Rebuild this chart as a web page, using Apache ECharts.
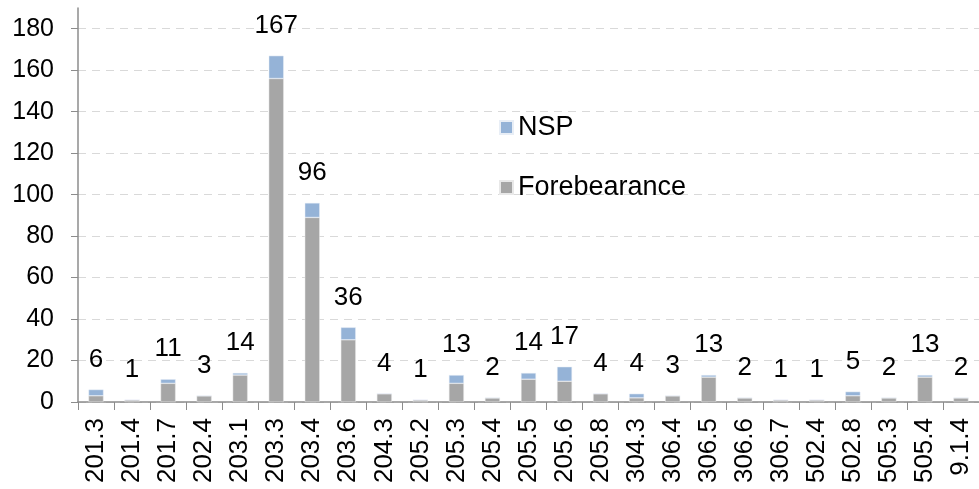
<!DOCTYPE html>
<html>
<head>
<meta charset="utf-8">
<script src="https://cdn.jsdelivr.net/npm/echarts@6/dist/echarts.min.js"></script>
<style>
html,body{margin:0;padding:0;background:#fff;}
#chart{width:979px;height:489px;}
</style>
</head>
<body>
<div id="chart"></div>
<script>
const categories = ['201.3','201.4','201.7','202.4','203.1','203.3','203.4','203.6','204.3','205.2','205.3','205.4','205.5','205.6','205.8','304.3','306.4','306.5','306.6','306.7','502.4','502.8','505.3','505.4','9.1.4'];
const forebearance = [3,1,9,3,13,156,89,30,4,1,9,2,11,10,4,2,3,12,2,1,1,3,2,12,2];
const nsp =          [3,0,2,0,1,11,7,6,0,0,4,0,3,7,0,2,0,1,0,0,0,2,0,1,0];
const totals =       [6,1,11,3,14,167,96,36,4,1,13,2,14,17,4,4,3,13,2,1,1,5,2,13,2];
const yTicks = [0,20,40,60,80,100,120,140,160,180];

const FONT = '"Liberation Sans", Arial, sans-serif';
const chart = echarts.init(document.getElementById('chart'));
const splitColors = yTicks.map(() => '#d9d9d9').concat(['rgba(0,0,0,0)']);

chart.setOption({
  animation: false,
  textStyle: { fontFamily: FONT },
  grid: { left: 78, right: -6, top: 8, bottom: 87, containLabel: false },
  legend: {
    orient: 'vertical',
    left: 499,
    top: 114,
    padding: 0,
    itemWidth: 13,
    itemHeight: 13,
    itemGap: 33,
    icon: 'rect',
    data: ['NSP', 'Forebearance'],
    textStyle: { fontSize: 27, color: '#000', fontFamily: FONT, lineHeight: 27 }
  },
  xAxis: {
    type: 'category',
    data: categories,
    boundaryGap: true,
    axisLine: { lineStyle: { color: '#8c8c8c', width: 1.5 } },
    axisTick: { show: true, length: 8, lineStyle: { color: '#8c8c8c', width: 1 } },
    axisLabel: { rotate: 90, fontSize: 26, color: '#000', margin: 16, interval: 0, fontFamily: FONT },
    splitLine: { show: false }
  },
  yAxis: {
    type: 'value',
    min: 0,
    max: 190,
    interval: 20,
    axisLine: { show: true, lineStyle: { color: '#8c8c8c', width: 1.5 } },
    axisTick: { show: true, length: 7, customValues: yTicks, lineStyle: { color: '#8c8c8c' } },
    axisLabel: { fontSize: 25, color: '#000', margin: 24, customValues: yTicks, fontFamily: FONT },
    splitLine: { show: true, lineStyle: { color: splitColors, type: [8, 6], width: 1 } }
  },
  series: [
    {
      name: 'Forebearance',
      type: 'bar',
      stack: 'total',
      data: forebearance,
      barWidth: 15,
      itemStyle: { color: '#a6a6a6', borderColor: '#e8e8e8', borderWidth: 0.5 }
    },
    {
      name: 'NSP',
      type: 'bar',
      stack: 'total',
      data: nsp,
      barWidth: 15,
      itemStyle: { color: '#95b3d7', borderColor: '#e8eef6', borderWidth: 0.5 },
      label: {
        show: true,
        position: 'top',
        distance: 17,
        fontSize: 26,
        lineHeight: 26,
        color: '#000',
        fontFamily: FONT,
        formatter: p => String(totals[p.dataIndex])
      }
    }
  ]
});
</script>
</body>
</html>
